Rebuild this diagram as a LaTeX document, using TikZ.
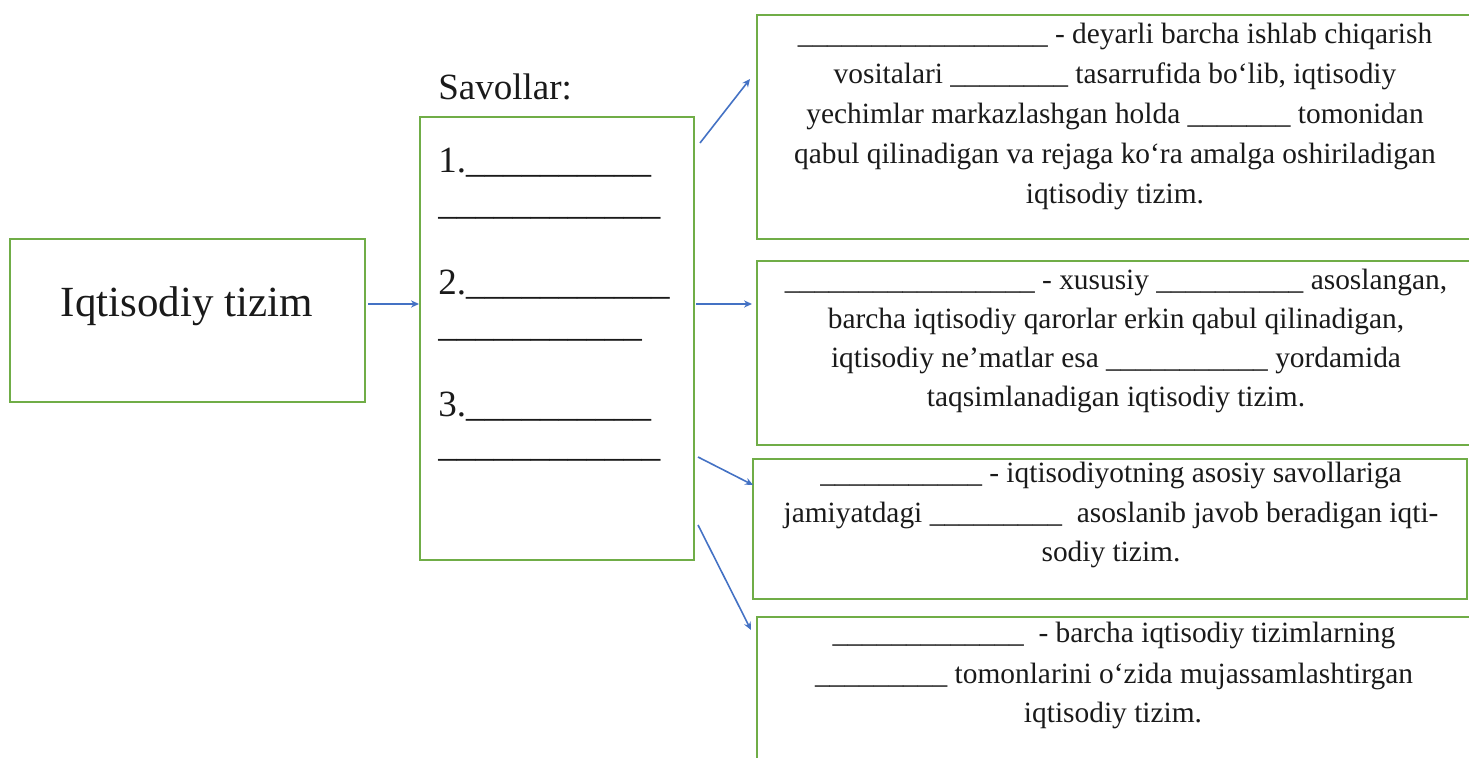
\documentclass[tikz,border=0pt]{standalone}
\usepackage{fontspec}
\setmainfont{Liberation Serif}
\usetikzlibrary{arrows.meta,calc}
\definecolor{boxgreen}{HTML}{70AD47}
\definecolor{arrowblue}{HTML}{4472C4}
\definecolor{ink}{HTML}{1A1A1A}
\ExplSyntaxOn
\cs_new:Npn \myblank #1 {\prg_replicate:nn {#1} {\textunderscore}}
\ExplSyntaxOff
\begin{document}
\begin{tikzpicture}[x=0.5pt,y=-0.5pt,
  box/.style={draw=boxgreen, line width=1.1pt, rectangle, inner sep=0pt, anchor=north west},
  rt/.style={anchor=base, inner sep=0pt, text=ink, font=\fontsize{14.7}{20}\selectfont},
  qt/.style={anchor=base west, inner sep=0pt, text=ink, font=\fontsize{18.5}{20}\selectfont},
  arr/.style={draw=arrowblue, line width=0.8pt, -{Stealth[length=4pt,width=3.6pt]}}]
\useasboundingbox (0,0) rectangle (1469,758);
\clip (0,0) rectangle (1469,758);
% boxes
\node[box, minimum width=177.5pt, minimum height=81.5pt] (iq) at (9,238) {};
\node[box, minimum width=137pt, minimum height=221.5pt] (sav) at (419,116) {};
\node[box, minimum width=359pt, minimum height=112pt] (b1) at (756,14) {};
\node[box, minimum width=359pt, minimum height=92pt] (b2) at (756,260) {};
\node[box, minimum width=357pt, minimum height=70pt] (b3) at (752,458) {};
\node[box, minimum width=359pt, minimum height=80pt] (b4) at (756,616) {};
% left label
\node[anchor=base, inner sep=0pt, text=ink, font=\fontsize{21.5}{24}\selectfont] (iqt) at (187,317) {Iqtisodiy tizim};
% questions
\node[qt] (savt) at (438,100) {Savollar:};
\node[qt] (q1a) at (438,173) {1.\myblank{10}};
\node[qt] (q1b) at (438,215) {\myblank{12}};
\node[qt] (q2a) at (438,295) {2.\myblank{11}};
\node[qt] (q2b) at (438,337) {\myblank{11}};
\node[qt] (q3a) at (438,417) {3.\myblank{10}};
\node[qt] (q3b) at (438,457) {\myblank{12}};
% box 1
\node[rt] (b1l1) at (1115,44) {\myblank{17} - deyarli barcha ishlab chiqarish};
\node[rt] (b1l2) at (1115,84) {vositalari \myblank{8} tasarrufida bo‘lib, iqtisodiy};
\node[rt] (b1l3) at (1115,124) {yechimlar markazlashgan holda \myblank{7} tomonidan};
\node[rt] (b1l4) at (1115,164) {qabul qilinadigan va rejaga ko‘ra amalga oshiriladigan};
\node[rt] (b1l5) at (1115,204) {iqtisodiy tizim.};
% box 2
\node[rt] (b2l1) at (1116,290) {\myblank{17} - xususiy \myblank{10} asoslangan,};
\node[rt] (b2l2) at (1116,329) {barcha iqtisodiy qarorlar erkin qabul qilinadigan,};
\node[rt] (b2l3) at (1116,368) {iqtisodiy ne’matlar esa \myblank{11} yordamida};
\node[rt] (b2l4) at (1116,407) {taqsimlanadigan iqtisodiy tizim.};
% box 3
\node[rt] (b3l1) at (1111,483) {\myblank{11} - iqtisodiyotning asosiy savollariga};
\node[rt] (b3l2) at (1111,523) {jamiyatdagi \myblank{9}\ \ asoslanib javob beradigan iqti-};
\node[rt] (b3l3) at (1111,562) {sodiy tizim.};
% box 4
\node[rt] (b4l1) at (1114,643) {\myblank{13}\ \ - barcha iqtisodiy tizimlarning};
\node[rt] (b4l2) at (1114,684) {\myblank{9} tomonlarini o‘zida mujassamlashtirgan};
\node[rt] (b4l3) at (1113,723) {iqtisodiy tizim.};
% connectors
\coordinate (a1s) at (368,304);
\coordinate (a2s) at (696,304);
\coordinate (a2e) at (752,304);
\coordinate (a3s) at (700,143);
\coordinate (a3e) at (750,79);
\coordinate (a4s) at (698,457);
\coordinate (a4e) at (753,485);
\coordinate (a5s) at (698,525);
\coordinate (a5e) at (751,630);
\draw[arr] (a1s) -- (a1s -| sav.west);
\draw[arr] (a2s) -- (a2e);
\draw[arr] (a3s) -- (a3e);
\draw[arr] (a4s) -- (a4e);
\draw[arr] (a5s) -- (a5e);
\end{tikzpicture}
\end{document}
